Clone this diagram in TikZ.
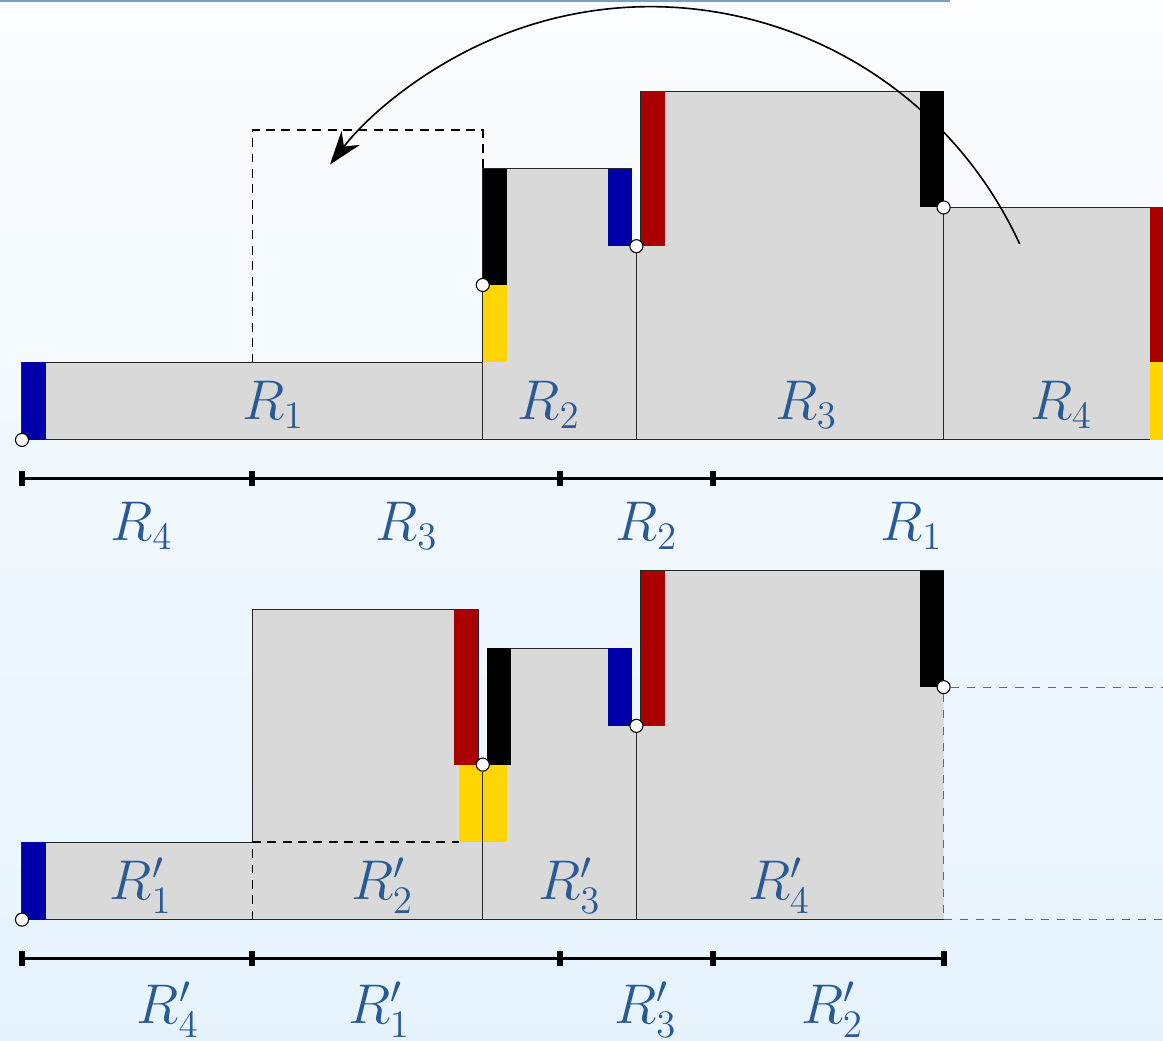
\documentclass[tikz,border=0pt]{standalone}
\usetikzlibrary{arrows.meta}
\definecolor{barblue}{RGB}{0,0,170}
\definecolor{barred}{RGB}{170,0,0}
\definecolor{baryellow}{RGB}{255,214,0}
\definecolor{lblblue}{RGB}{40,90,150}
\definecolor{bgtop}{RGB}{251,253,255}
\definecolor{bgbottom}{RGB}{230,243,253}
\definecolor{framegray}{RGB}{125,155,195}
\tikzset{
    piece/.style={fill=black!15, draw=black!85, thin},
    hook/.style={circle, draw=black, fill=white, thin, inner sep=0pt, minimum size=1.7mm},
    plabel/.style={text=lblblue, font=\fontsize{22.5}{27}\selectfont},
    ruler/.style={line width=1.3pt},
    tickmark/.style={line width=2.2pt},
    ghost/.style={dashed, dash pattern=on 3.3pt off 2.4pt, semithick},
}

\begin{document}
\begin{tikzpicture}[x=1cm, y=1.009cm]
    % Background
    \useasboundingbox (-0.2865,-7.755) rectangle (14.857,5.677);
    \clip (-0.2865,-7.755) rectangle (14.857,5.677);
    \shade[top color=bgtop, bottom color=bgbottom] (-0.2865,-7.755) rectangle (14.857,5.677);
    \draw[framegray, line width=0.8pt] (-0.2865,5.664) -- (12.08,5.664);

    % Top row: pieces
    \filldraw[piece] (0,0) rectangle (6,1);
    \filldraw[piece] (6,0) -- (8,0) -- (8,2.5) -- (7.94,2.5) -- (7.94,3.5) -- (6,3.5) -- cycle;
    \filldraw[piece] (8,0) -- (12,0) -- (12,4.5) -- (8.06,4.5) -- (8.06,2.5) -- (8,2.5) -- cycle;
    \filldraw[piece] (12,0) -- (15.2,0) -- (15.2,3) -- (12,3) -- cycle;
    % Top row: bars
    \fill[barblue] (0,0) rectangle (0.31,1);
    \fill[baryellow] (6,1) rectangle (6.31,2);
    \fill[black] (6,2) rectangle (6.31,3.5);
    \fill[barblue] (7.63,2.5) rectangle (7.94,3.5);
    \fill[barred] (8.06,2.5) rectangle (8.37,4.5);
    \fill[black] (11.69,3) rectangle (12,4.5);
    \fill[barred] (14.69,1) rectangle (15,3);
    \fill[baryellow] (14.69,0) rectangle (15,1);
    % Free slot
    \draw[ghost] (3,1) -- (3,4) -- (6,4) -- (6,3.5);
    % Hooks
    \node[hook] (ha) at (0,0) {};
    \node[hook] (hb) at (6,2) {};
    \node[hook] (hc) at (8,2.5) {};
    \node[hook] (hd) at (12,3) {};
    % Labels
    \node[plabel] (tR1) at (3.27,0.45) {$R_1$};
    \node[plabel] (tR2) at (6.86,0.45) {$R_2$};
    \node[plabel] (tR3) at (10.21,0.45) {$R_3$};
    \node[plabel] (tR4) at (13.53,0.45) {$R_4$};
    % Ruler
    \draw[ruler] (0,-0.5) -- (15.2,-0.5);
    \foreach \t in {0,3,7,9}
        \draw[tickmark] (\t,-0.6) -- (\t,-0.4);
    \node[plabel] (sR4) at (1.56,-1.11) {$R_4$};
    \node[plabel] (sR3) at (5.01,-1.11) {$R_3$};
    \node[plabel] (sR2) at (8.13,-1.11) {$R_2$};
    \node[plabel] (sR1) at (11.58,-1.11) {$R_1$};
    % Move
    \coordinate (arcstart) at (12.99,2.53);
    \draw[semithick, -{Stealth[length=4.4mm, width=3mm]}] (arcstart) arc[start angle=25, end angle=142, radius=5.3];

    \begin{scope}[shift={(0,-6.19)}]
        % Bottom row: pieces
        \fill[black!15] (0,0) rectangle (3,1);
        \draw[black!85, thin] (3,1) -- (0,1) -- (0,0) -- (3,0);
        \fill[black!15] (3,0) -- (6,0) -- (6,2) -- (5.94,2) -- (5.94,4) -- (3,4) -- cycle;
        \draw[black!85, thin] (3,1) -- (3,4) -- (5.94,4) -- (5.94,2) -- (6,2) -- (6,0) -- (3,0);
        \filldraw[piece] (6,0) -- (8,0) -- (8,2.5) -- (7.94,2.5) -- (7.94,3.5) -- (6.06,3.5) -- (6.06,2) -- (6,2) -- cycle;
        \fill[black!15] (8,0) -- (12,0) -- (12,4.5) -- (8.06,4.5) -- (8.06,2.5) -- (8,2.5) -- cycle;
        \draw[black!85, thin] (12,0) -- (8,0) -- (8,2.5) -- (8.06,2.5) -- (8.06,4.5) -- (12,4.5);
        % Bottom row: bars
        \fill[barblue] (0,0) rectangle (0.31,1);
        \fill[barred] (5.63,2) rectangle (5.94,4);
        \fill[baryellow] (5.69,1) rectangle (6.31,2);
        \fill[black] (6.06,2) rectangle (6.37,3.5);
        \fill[barblue] (7.63,2.5) rectangle (7.94,3.5);
        \fill[barred] (8.06,2.5) rectangle (8.37,4.5);
        \fill[black] (11.69,3) rectangle (12,4.5);
        % Old slot
        \draw[ghost] (3,0) -- (3,1) -- (5.69,1);
        % Hooks
        \node[hook] (he) at (0,0) {};
        \node[hook] (hf) at (6,2) {};
        \node[hook] (hg) at (8,2.5) {};
        \node[hook] (hh) at (12,3) {};
        \coordinate (hbase) at (12,0);
        \coordinate (edgeup) at (15,3);
        \coordinate (edgelow) at (15,0);
        \draw[black!85, thin] (hf) -- (6,0);
        \draw[black!60, dashed] (hh) -- (hbase);
        \draw[black!60, dashed] (hh) -- (edgeup);
        \draw[black!60, dashed] (hbase) -- (edgelow);
        % Labels
        \node[plabel] (bR1) at (1.55,0.44) {$R'_1$};
        \node[plabel] (bR2) at (4.69,0.44) {$R'_2$};
        \node[plabel] (bR3) at (7.13,0.44) {$R'_3$};
        \node[plabel] (bR4) at (9.86,0.44) {$R'_4$};
        % Ruler
        \draw[ruler] (0,-0.5) -- (12,-0.5);
        \foreach \t in {0,3,7,9,12}
            \draw[tickmark] (\t,-0.6) -- (\t,-0.4);
        \node[plabel] (tR4p) at (1.90,-1.16) {$R'_4$};
        \node[plabel] (tR1p) at (4.65,-1.16) {$R'_1$};
        \node[plabel] (tR3p) at (8.12,-1.16) {$R'_3$};
        \node[plabel] (tR2p) at (10.55,-1.16) {$R'_2$};
    \end{scope}
\end{tikzpicture}
\end{document}
